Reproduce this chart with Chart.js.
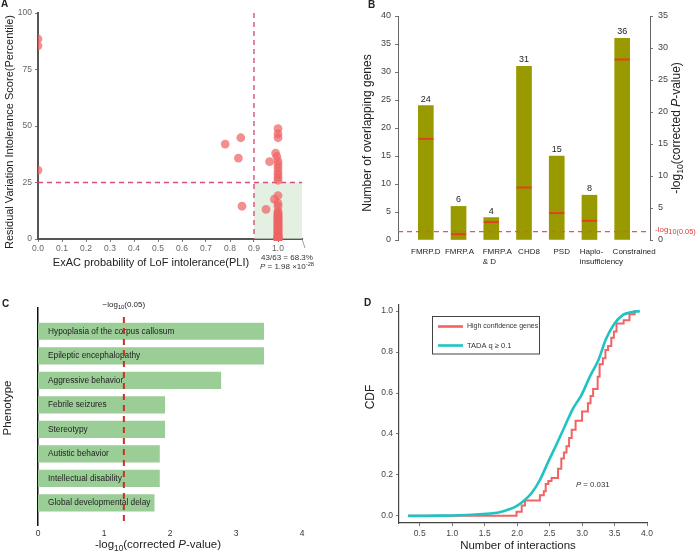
<!DOCTYPE html>
<html>
<head>
<meta charset="utf-8">
<script src="https://cdn.jsdelivr.net/npm/chart.js@4.4.1/dist/chart.umd.min.js"></script>
<style>
  html, body { margin: 0; padding: 0; background: #fff; }
  #wrap { position: relative; width: 697px; height: 553px; overflow: hidden; }
  canvas { position: absolute; }
</style>
</head>
<body>
<div id="wrap">
  <canvas id="cA" width="340" height="280" style="left:0;top:0"></canvas>
  <canvas id="cB" width="357" height="280" style="left:340px;top:0"></canvas>
  <canvas id="cC" width="340" height="273" style="left:0;top:280px"></canvas>
  <canvas id="cD" width="357" height="273" style="left:340px;top:280px"></canvas>
</div>
<script>
// ---- panel A: PLI vs RVIS ----
const pliValues = [0, 0, 0, 0.78, 0.845, 0.835, 0.85,
  1.0, 1.0, 1.0, 0.99, 0.995, 0.965, 1.0, 1.0, 1.0, 1.0, 1.0, 1.0, 1.0,
  1.0, 0.985, 1.0, 1.0, 0.95,
  1.0, 1.0, 1.0, 1.0, 1.0, 1.0, 1.0, 1.0, 1.0, 1.0, 1.0, 1.0, 1.0, 1.0, 1.0, 1.0, 1.0, 1.0, 1.0,
  1.0, 1.0, 1.0, 1.0, 1.0, 1.0, 1.0, 1.0, 1.0, 1.0, 1.0, 1.0, 1.0, 1.0, 1.0, 1.0, 1.0, 1.0, 1.0];
const rvisValues = [88.5, 85.5, 30.5, 42, 44.8, 35.8, 14.5,
  48.8, 46.5, 44.8, 38, 36.5, 34.2, 34.5, 33, 31.5, 29.8, 28.5, 27.2, 26,
  19.2, 17.6, 15.8, 14.5, 13.1,
  12.2, 11.6, 11.0, 10.5, 10.0, 9.6, 9.2, 8.8, 8.4, 8.0, 7.6, 7.2, 6.8, 6.4, 6.0, 5.6, 5.2, 4.8, 4.4,
  4.0, 3.6, 3.2, 2.8, 2.4, 2.0, 1.7, 1.4, 1.1, 0.8, 0.6, 0.4, 0.3, 0.2, 0.1, 0.1, 0.0, 0.0, 0.0];
const pliTicks = [0, 0.1, 0.2, 0.3, 0.4, 0.5, 0.6, 0.7, 0.8, 0.9, 1.0];
const rvisTicks = [0, 25, 50, 75, 100];
const pliCut = 0.9, rvisCut = 25;

// ---- panel B: overlap with gene sets ----
const setNames = [['FMRP.D'], ['FMRP.A'], ['FMRP.A', '& D'], ['CHD8'], ['PSD'], ['Haplo-', 'insufficiency'], ['Constrained']];
const overlapCounts = [24, 6, 4, 31, 15, 8, 36];
const setLogP = [15.8, 0.9, 2.8, 8.2, 4.2, 3.0, 28.2];
const logP05 = 1.301;
// small horizontal nudges of the category labels (px), as in the original layout
const setLabelNudge = [0, 1, 6, 5, 5, 2, 12];

// ---- panel C: phenotype enrichment ----
const phenotypes = ['Hypoplasia of the corpus callosum', 'Epileptic encephalopathy', 'Aggressive behavior',
  'Febrile seizures', 'Stereotypy', 'Autistic behavior', 'Intellectual disability', 'Global developmental delay'];
const phenoLogP = [3.42, 3.42, 2.77, 1.92, 1.92, 1.84, 1.84, 1.76];

// ---- panel D: CDF of interactions ----
const tadaX = [0.32, 0.6, 1.0, 1.3, 1.53, 1.73, 1.88, 1.99, 2.09, 2.22, 2.35, 2.48, 2.6, 2.73, 2.86, 2.99, 3.12, 3.25, 3.37, 3.5, 3.63, 3.76, 3.89];
const tadaY = [0, 0, 0.002, 0.005, 0.01, 0.018, 0.032, 0.048, 0.07, 0.11, 0.175, 0.265, 0.345, 0.435, 0.524, 0.59, 0.68, 0.76, 0.865, 0.94, 0.982, 0.995, 1.0];
const hcX = [0.32, 1.96, 1.99, 2.07, 2.12, 2.35, 2.41, 2.44, 2.48, 2.53, 2.63, 2.68, 2.72, 2.76, 2.80, 2.84, 2.90, 3.0, 3.09, 3.13, 3.17, 3.24, 3.27, 3.32, 3.36, 3.40, 3.45, 3.49, 3.53, 3.64, 3.73, 3.81, 3.83];
const hcY = [0, 0, 0.02, 0.05, 0.075, 0.10, 0.12, 0.155, 0.17, 0.185, 0.23, 0.28, 0.31, 0.34, 0.38, 0.42, 0.465, 0.51, 0.55, 0.585, 0.62, 0.68, 0.74, 0.77, 0.81, 0.83, 0.87, 0.9, 0.94, 0.955, 0.985, 1.0, 1.0];
const cdfXTicks = [0.5, 1.0, 1.5, 2.0, 2.5, 3.0, 3.5, 4.0];
const cdfYTicks = [0, 0.2, 0.4, 0.6, 0.8, 1.0];

const FONT = "'Liberation Sans', Arial, sans-serif";
Chart.defaults.font.family = FONT;
Chart.defaults.animation = false;
Chart.defaults.plugins.legend.display = false;
Chart.defaults.plugins.tooltip.enabled = false;

// text with italic / sub / sup pieces
function rich(ctx, segs, x, y, size, align, angle, color) {
  ctx.save();
  ctx.translate(x, y);
  if (angle) ctx.rotate(angle);
  segs = segs.map(s => typeof s === 'string' ? { t: s } : s);
  const fontOf = s => (s.i ? 'italic ' : '') + (s.b ? 'bold ' : '') + ((s.sub || s.sup) ? size * (s.k || 0.72) : size) + 'px ' + FONT;
  let w = 0;
  segs.forEach(s => { ctx.font = fontOf(s); s.w = ctx.measureText(s.t).width; w += s.w; });
  let cx = align === 'center' ? -w / 2 : align === 'right' ? -w : 0;
  ctx.textBaseline = 'middle';
  ctx.textAlign = 'left';
  ctx.fillStyle = color || '#222';
  segs.forEach(s => {
    ctx.font = fontOf(s);
    const dy = s.sub ? size * 0.3 : s.sup ? -size * 0.35 : 0;
    ctx.fillText(s.t, cx, dy);
    cx += s.w;
  });
  ctx.restore();
}
const UP = -Math.PI / 2;
const logPTitle = ['-log', { t: '10', sub: true }, '(corrected ', { t: 'P', i: true }, '-value)'];

function tickAxis(extra) {
  return Object.assign({
    grid: { display: true, drawOnChartArea: false, tickLength: 3, color: '#777' },
  }, extra);
}

// ---------- A ----------
new Chart(document.getElementById('cA'), {
  type: 'scatter',
  data: {
    datasets: [{
      data: pliValues.map((v, i) => ({ x: v, y: rvisValues[i] })),
      backgroundColor: 'rgba(238,100,100,0.72)',
      borderWidth: 0,
      pointRadius: 4.4,
      clip: { left: 0, top: 8, right: 8, bottom: 2 }
    }]
  },
  options: {
    responsive: false,
    layout: { padding: { left: 0, right: 38, top: 13, bottom: 0 } },
    scales: {
      x: tickAxis({
        type: 'linear', min: 0, max: 1.1,
        afterBuildTicks: s => { s.ticks = pliTicks.map(v => ({ value: v })); },
        ticks: { callback: v => v.toFixed(1), font: { size: 8.5 }, color: '#666', padding: 2, maxRotation: 0 },
        border: { color: '#555', width: 2 },
        afterFit: s => { s.height = 41; }
      }),
      y: tickAxis({
        type: 'linear', min: 0, max: 100,
        afterBuildTicks: s => { s.ticks = rvisTicks.map(v => ({ value: v })); },
        ticks: { font: { size: 8.5 }, color: '#666', padding: 3 },
        border: { color: '#555', width: 2 },
        afterFit: s => { s.width = 38; }
      })
    }
  },
  plugins: [{
    id: 'panelA',
    beforeDatasetsDraw(chart) {
      const { ctx, chartArea: a, scales: { x, y } } = chart;
      const xc = x.getPixelForValue(pliCut), yc = y.getPixelForValue(rvisCut);
      ctx.save();
      ctx.fillStyle = 'rgba(214,232,210,0.65)';
      ctx.fillRect(xc, yc, a.right - xc, y.getPixelForValue(0) - yc);
      ctx.strokeStyle = '#d8507a';
      ctx.lineWidth = 1.4;
      ctx.setLineDash([5, 4]);
      ctx.beginPath();
      ctx.moveTo(xc, a.top); ctx.lineTo(xc, a.bottom);
      ctx.moveTo(a.left, yc); ctx.lineTo(a.right, yc);
      ctx.stroke();
      ctx.restore();
    },
    afterDraw(chart) {
      const { ctx, chartArea: a } = chart;
      ctx.save();
      ctx.strokeStyle = '#888'; ctx.lineWidth = 0.8;
      ctx.beginPath(); ctx.moveTo(a.right, a.bottom); ctx.lineTo(a.right + 3, a.bottom + 9); ctx.stroke();
      ctx.restore();
      rich(ctx, [{ t: 'A', b: true }], 1, 4, 10, 'left');
      rich(ctx, ['Residual Variation Intolerance Score(Percentile)'], 10, 132, 11, 'center', UP);
      rich(ctx, ['ExAC probability of LoF intolerance(PLI)'], 151, 263, 11, 'center');
      rich(ctx, ['43/63 = 68.3%'], 287, 258, 8, 'center', 0, '#333');
      rich(ctx, [{ t: 'P', i: true }, ' = 1.98 \u00d710', { t: '-28', sup: true }], 287, 267, 8, 'center', 0, '#333');
    }
  }]
});

// ---------- B ----------
new Chart(document.getElementById('cB'), {
  type: 'bar',
  data: {
    datasets: [{
      type: 'line',
      order: 0,
      yAxisID: 'y1',
      data: setLogP.map((v, i) => ({ x: i, y: v })),
      showLine: false,
      pointStyle: 'line',
      pointRadius: 7.5,
      borderColor: '#e2401e',
      borderWidth: 2
    }, {
      order: 1,
      yAxisID: 'y',
      data: overlapCounts.map((v, i) => ({ x: i, y: v })),
      backgroundColor: '#999900',
      barThickness: 15
    }]
  },
  options: {
    responsive: false,
    layout: { padding: { left: 0, right: 0, top: 16, bottom: 0 } },
    scales: {
      x: {
        type: 'linear', min: -0.85, max: 6.85, offset: false,
        afterBuildTicks: s => { s.ticks = setNames.map((n, i) => ({ value: i })); },
        ticks: { display: false },
        grid: { display: false, drawTicks: false, offset: false },
        border: { display: false },
        afterFit: s => { s.height = 40; }
      },
      y: tickAxis({
        position: 'left', min: 0, max: 40,
        ticks: { stepSize: 5, font: { size: 9 }, color: '#444', padding: 4 },
        border: { color: '#666', width: 1 },
        afterFit: s => { s.width = 58; }
      }),
      y1: tickAxis({
        position: 'right', min: 0, max: 35,
        ticks: { stepSize: 5, font: { size: 9 }, color: '#444', padding: 5 },
        border: { color: '#666', width: 1 },
        afterFit: s => { s.width = 47; }
      })
    }
  },
  plugins: [{
    id: 'panelB',
    afterDatasetsDraw(chart) {
      const { ctx, chartArea: a, scales: { x, y1 } } = chart;
      const bars = chart.getDatasetMeta(1).data;
      ctx.save();
      ctx.font = '9px ' + FONT;
      ctx.fillStyle = '#222';
      ctx.textAlign = 'center';
      ctx.textBaseline = 'bottom';
      bars.forEach((b, i) => ctx.fillText(String(overlapCounts[i]), b.x, b.y - 2));
      // category labels: first line centred, following lines aligned to it
      ctx.font = '8px ' + FONT;
      ctx.textAlign = 'left';
      ctx.textBaseline = 'middle';
      setNames.forEach((lines, i) => {
        const cx = x.getPixelForValue(i) + setLabelNudge[i];
        const x0 = cx - ctx.measureText(lines[0]).width / 2;
        lines.forEach((ln, k) => ctx.fillText(ln, x0, a.bottom + 12 + k * 10));
      });
      const yt = y1.getPixelForValue(logP05);
      ctx.strokeStyle = '#e25466';
      ctx.lineWidth = 1.2;
      ctx.setLineDash([5, 4]);
      ctx.beginPath(); ctx.moveTo(a.left, yt); ctx.lineTo(a.right, yt); ctx.stroke();
      ctx.restore();
      rich(ctx, ['-log', { t: '10(0.05)', sub: true, k: 0.92 }], a.right + 5, yt - 2, 8, 'left', 0, '#e03a3a');
    },
    afterDraw(chart) {
      const ctx = chart.ctx;
      rich(ctx, [{ t: 'B', b: true }], 28, 5, 10, 'left');
      rich(ctx, ['Number of overlapping genes'], 28, 133, 12, 'center', UP);
      rich(ctx, logPTitle, 337, 128, 12, 'center', UP);
    }
  }]
});

// ---------- C ----------
new Chart(document.getElementById('cC'), {
  type: 'bar',
  data: {
    datasets: [{
      data: phenoLogP.map((v, i) => ({ x: v, y: i })),
      backgroundColor: '#9bcd97',
      barThickness: 16.5
    }]
  },
  options: {
    responsive: false,
    indexAxis: 'y',
    layout: { padding: { left: 0, right: 38, top: 28, bottom: 0 } },
    scales: {
      x: {
        type: 'linear', min: 0, max: 4,
        ticks: { stepSize: 1, font: { size: 8.5 }, color: '#333', padding: 4 },
        grid: { display: false, drawTicks: false },
        border: { display: false },
        afterFit: s => { s.height = 28; }
      },
      y: {
        type: 'linear', reverse: true, min: -0.95, max: 7.9, offset: false,
        ticks: { display: false },
        grid: { display: false, drawTicks: false, offset: false },
        border: { color: '#111', width: 1.5 },
        afterFit: s => { s.width = 38; }
      }
    }
  },
  plugins: [{
    id: 'panelC',
    afterDatasetsDraw(chart) {
      const { ctx, chartArea: a, scales: { x } } = chart;
      const bars = chart.getDatasetMeta(0).data;
      ctx.save();
      ctx.font = '8.3px ' + FONT;
      ctx.fillStyle = '#222';
      ctx.textBaseline = 'middle';
      bars.forEach((b, i) => ctx.fillText(phenotypes[i], a.left + 10, b.y));
      const xt = x.getPixelForValue(logP05);
      ctx.strokeStyle = '#c8302a';
      ctx.lineWidth = 2;
      ctx.setLineDash([6, 5]);
      ctx.beginPath(); ctx.moveTo(xt, a.top + 9); ctx.lineTo(xt, a.bottom); ctx.stroke();
      ctx.restore();
      rich(ctx, ['\u2212log', { t: '10', sub: true }, '(0.05)'], xt, a.top - 3, 8, 'center', 0, '#222');
    },
    afterDraw(chart) {
      const ctx = chart.ctx;
      rich(ctx, [{ t: 'C', b: true }], 2, 24, 10, 'left');
      rich(ctx, ['Phenotype'], 8, 128, 11.5, 'center', UP);
      rich(ctx, logPTitle, 158, 265, 11.5, 'center');
    }
  }]
});

// ---------- D ----------
new Chart(document.getElementById('cD'), {
  type: 'line',
  data: {
    datasets: [{
      data: tadaX.map((v, i) => ({ x: v, y: tadaY[i] })),
      borderColor: '#1fc3c3',
      borderWidth: 2.6,
      pointRadius: 0,
      tension: 0.3
    }, {
      data: hcX.map((v, i) => ({ x: v, y: hcY[i] })),
      borderColor: '#f06464',
      borderWidth: 2,
      pointRadius: 0,
      stepped: true
    }]
  },
  options: {
    responsive: false,
    layout: { padding: { left: 0, right: 50, top: 25, bottom: 0 } },
    scales: {
      x: tickAxis({
        type: 'linear', min: 0.18, max: 4.0,
        afterBuildTicks: s => { s.ticks = cdfXTicks.map(v => ({ value: v })); },
        ticks: { callback: v => v.toFixed(1), font: { size: 8.5 }, color: '#444', padding: 3, maxRotation: 0 },
        border: { color: '#444', width: 1.2 },
        afterFit: s => { s.height = 30; }
      }),
      y: tickAxis({
        type: 'linear', min: -0.035, max: 1.03,
        afterBuildTicks: s => { s.ticks = cdfYTicks.map(v => ({ value: v })); },
        ticks: { callback: v => v.toFixed(1), font: { size: 8.5 }, color: '#444', padding: 3 },
        border: { color: '#444', width: 1.2 },
        afterFit: s => { s.width = 59; }
      })
    }
  },
  plugins: [{
    id: 'panelD',
    afterDraw(chart) {
      const ctx = chart.ctx;
      rich(ctx, [{ t: 'D', b: true }], 24, 23, 10, 'left');
      rich(ctx, ['CDF'], 31, 117, 12, 'center', UP);
      rich(ctx, ['Number of interactions'], 178, 266, 11.5, 'center');
      ctx.save();
      ctx.strokeStyle = '#444';
      ctx.lineWidth = 1;
      ctx.strokeRect(92.5, 36.5, 107, 37.5);
      ctx.lineWidth = 2.6;
      ctx.strokeStyle = '#f06464';
      ctx.beginPath(); ctx.moveTo(98, 46.5); ctx.lineTo(123, 46.5); ctx.stroke();
      ctx.strokeStyle = '#1fc3c3';
      ctx.beginPath(); ctx.moveTo(98, 65.5); ctx.lineTo(123, 65.5); ctx.stroke();
      ctx.restore();
      rich(ctx, ['High confidence genes'], 127, 46.5, 7, 'left', 0, '#333');
      rich(ctx, ['TADA q \u2265 0.1'], 127, 65.5, 7.5, 'left', 0, '#333');
      rich(ctx, [{ t: 'P', i: true }, ' = 0.031'], 236, 205, 7.8, 'left', 0, '#333');
    }
  }]
});
</script>
</body>
</html>
